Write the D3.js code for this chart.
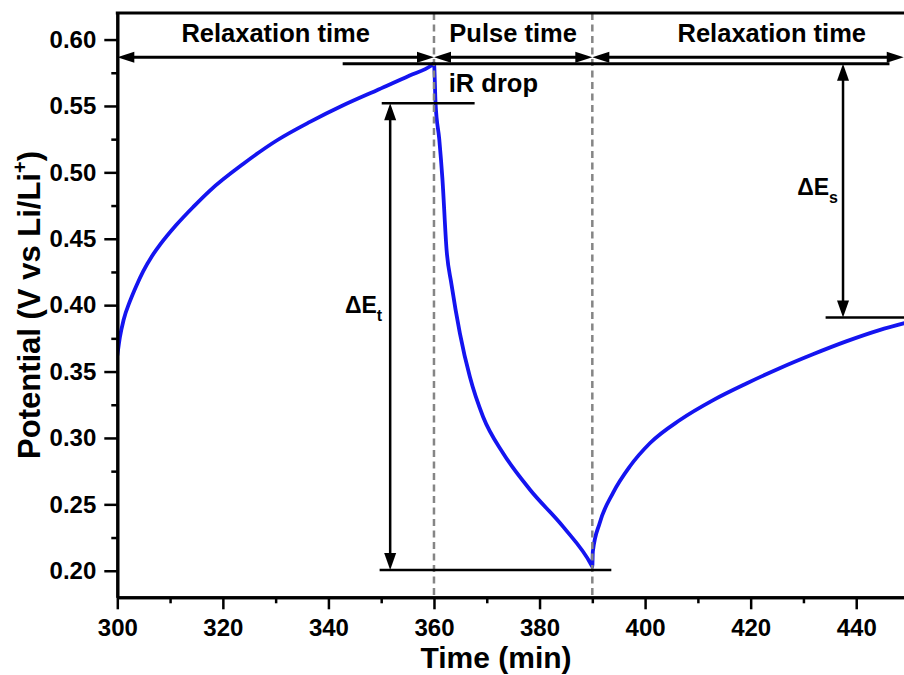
<!DOCTYPE html>
<html><head><meta charset="utf-8">
<script src="https://cdn.jsdelivr.net/npm/d3@7"></script>
<style>
body{margin:0;background:#fff}
svg{display:block;background:#fff}
text{font-family:"Liberation Sans",Arial,Helvetica,sans-serif;font-weight:bold;fill:#000}
</style>
</head><body>
<svg id="chart" width="904" height="675"></svg>
<script>
// ---- data ----
const timeMin = [300.0, 300.5, 301.2, 302.4, 303.6, 304.9, 306.5, 308.1, 311.2, 314.4, 317.6, 323.9, 330.2, 336.5, 342.8, 349.1, 355.4, 359.5, 360.0,
  360.3, 361.0, 361.6, 362.4, 363.3, 364.9, 366.8, 369.3, 373.1, 378.2, 384.5, 389.8, 390.0,
  390.1, 391.4, 393.9, 397.1, 400.9, 406.6, 412.9, 419.2, 425.5, 431.8, 438.1, 444.4, 449.5];
const potentialV = [0.362, 0.376, 0.389, 0.403, 0.4145, 0.4255, 0.4365, 0.4455, 0.4605, 0.474, 0.4865, 0.5065, 0.524, 0.538, 0.5505, 0.5617, 0.5729, 0.5805, 0.582,
  0.552, 0.525, 0.495, 0.441, 0.416, 0.379, 0.346, 0.316, 0.2885, 0.261, 0.233, 0.2045, 0.203,
  0.2145, 0.236, 0.2585, 0.2785, 0.296, 0.3135, 0.3285, 0.341, 0.3525, 0.363, 0.3727, 0.3812, 0.3868];

const xMajorTicks = [300, 320, 340, 360, 380, 400, 420, 440];
const xMinorTicks = [310, 330, 350, 370, 390, 410, 430, 450];
const yMajorTicks = [0.20, 0.25, 0.30, 0.35, 0.40, 0.45, 0.50, 0.55, 0.60];
const yMinorTicks = [0.225, 0.275, 0.325, 0.375, 0.425, 0.475, 0.525, 0.575];

const phaseBounds = [300, 360, 390, 449];
const phaseLabels = ["Relaxation time", "Pulse time", "Relaxation time"];
const phaseLabelTimes = [330, 375, 424];
const phaseArrowLevel = 0.5867;

const peakLevel = 0.5817;      // potential before the pulse
const irLevel = 0.5521;        // after the iR drop
const pulseEndLevel = 0.2005;  // end of pulse
const relaxEndLevel = 0.3907;  // end of relaxation

const xTitle = "Time (min)";

// ---- layout ----
const svg = d3.select("#chart");
const x = d3.scaleLinear().domain([300, 450]).range([117.3, 909]);
const y = d3.scaleLinear().domain([0.18, 0.62]).range([597.3, 13]);
const [X0, X1] = x.range();
const [Y0, Y1] = y.range();

svg.append("rect").attr("width", 904).attr("height", 675).attr("fill", "#fff");

svg.append("defs").append("clipPath").attr("id", "plotclip")
  .append("rect").attr("x", X0).attr("y", Y1).attr("width", X1 - X0).attr("height", Y0 - Y1);

// curve
const pts = timeMin.map((t, i) => [t, potentialV[i]]);
svg.append("path").datum(pts)
  .attr("clip-path", "url(#plotclip)")
  .attr("fill", "none").attr("stroke", "#1414f0").attr("stroke-width", 3.8)
  .attr("stroke-linejoin", "round")
  .attr("d", d3.line().x(d => x(d[0])).y(d => y(d[1])).curve(d3.curveMonotoneX));

// dashed phase boundaries
svg.selectAll(".bound").data(phaseBounds.slice(1, 3)).join("line")
  .attr("x1", d => x(d)).attr("x2", d => x(d)).attr("y1", Y1).attr("y2", Y0)
  .attr("stroke", "#858585").attr("stroke-width", 2.5).attr("stroke-dasharray", "7,4.5");

// ---- arrows ----
const g = svg.append("g");
function head(px, py, dir, len, hw) {
  let p;
  if (dir === 'l') p = [[px, py], [px + len, py - hw], [px + len, py + hw]];
  if (dir === 'r') p = [[px, py], [px - len, py - hw], [px - len, py + hw]];
  if (dir === 'u') p = [[px, py], [px - hw, py + len], [px + hw, py + len]];
  if (dir === 'd') p = [[px, py], [px - hw, py - len], [px + hw, py - len]];
  g.append("path").attr("d", "M" + p.map(q => q.join(",")).join("L") + "Z").attr("fill", "#000");
}
function hArrow(t1, t2, v) {
  const a = x(t1), b = x(t2), yy = y(v), L = 17;
  g.append("line").attr("x1", a + L - 2).attr("x2", b - L + 2).attr("y1", yy).attr("y2", yy)
    .attr("stroke", "#000").attr("stroke-width", 3);
  head(a, yy, 'l', L, 5.5);
  head(b, yy, 'r', L, 5.5);
}
function vArrow(t, v1, v2) {
  const xx = x(t), a = y(v1), b = y(v2), L = 17;
  g.append("line").attr("x1", xx).attr("x2", xx).attr("y1", a + L - 2).attr("y2", b - L + 2)
    .attr("stroke", "#000").attr("stroke-width", 2.5);
  head(xx, a, 'u', L, 6);
  head(xx, b, 'd', L, 6);
}
function hLine(t1, t2, v, w) {
  g.append("line").attr("x1", x(t1)).attr("x2", x(t2)).attr("y1", y(v)).attr("y2", y(v))
    .attr("stroke", "#000").attr("stroke-width", w);
}

for (let i = 0; i < 3; i++) hArrow(phaseBounds[i], phaseBounds[i + 1], phaseArrowLevel);

hLine(342.7, 446.3, peakLevel, 3);
hLine(350.1, 367.7, irLevel, 2.5);
hLine(349.7, 393.6, pulseEndLevel, 2.5);
hLine(434.2, 452, relaxEndLevel, 2.5);

vArrow(351.7, irLevel, pulseEndLevel);
vArrow(437.5, peakLevel, relaxEndLevel);

// phase labels
svg.selectAll(".plab").data(phaseLabels).join("text")
  .attr("x", (d, i) => x(phaseLabelTimes[i])).attr("y", y(phaseArrowLevel) - 15)
  .attr("text-anchor", "middle").attr("font-size", 25.5).text(d => d);

// iR drop
svg.append("text").attr("x", x(362.8)).attr("y", 92).attr("font-size", 25.5).text("iR drop");

// ΔE labels
function deltaLabel(px, py, sub) {
  const t = svg.append("text").attr("x", px).attr("y", py).attr("text-anchor", "end").attr("font-size", 23);
  t.append("tspan").text("ΔE");
  t.append("tspan").attr("font-size", 16).attr("dy", 8).text(sub);
}
deltaLabel(x(351.7) - 8, 313, "t");
deltaLabel(x(437.5) - 5, 195, "s");

// ---- axes ----
const axStyle = sel => {
  sel.select(".domain").attr("stroke", "#000").attr("stroke-width", 3);
  sel.selectAll(".tick line").attr("stroke", "#000").attr("stroke-width", 2.5);
  sel.selectAll(".tick text").attr("font-size", 24).attr("fill", "#000")
    .style("font-family", '"Liberation Sans",Arial,sans-serif').style("font-weight", "bold");
};

svg.append("g").attr("transform", `translate(0,${Y0})`)
  .call(d3.axisBottom(x).tickValues(xMinorTicks).tickSize(6).tickFormat("").tickSizeOuter(0)).call(axStyle);
svg.append("g").attr("transform", `translate(0,${Y0})`)
  .call(d3.axisBottom(x).tickValues(xMajorTicks).tickSize(12).tickPadding(10).tickFormat(d3.format("d")).tickSizeOuter(0))
  .call(axStyle);

svg.append("g").attr("transform", `translate(${X0},0)`)
  .call(d3.axisLeft(y).tickValues(yMinorTicks).tickSize(6).tickFormat("").tickSizeOuter(0)).call(axStyle);
svg.append("g").attr("transform", `translate(${X0},0)`)
  .call(d3.axisLeft(y).tickValues(yMajorTicks).tickSize(13).tickPadding(8).tickFormat(d3.format(".2f")).tickSizeOuter(0))
  .call(axStyle);

// top frame
svg.append("line").attr("x1", X0 - 1.5).attr("x2", X1).attr("y1", Y1).attr("y2", Y1)
  .attr("stroke", "#000").attr("stroke-width", 3);

// axis titles
svg.append("text").attr("x", 496).attr("y", 668).attr("text-anchor", "middle")
  .attr("font-size", 30).text(xTitle);

const yt = svg.append("text").attr("transform", "translate(40,305) rotate(-90)")
  .attr("text-anchor", "middle").attr("font-size", 31);
yt.append("tspan").text("Potential (V vs Li/Li");
yt.append("tspan").attr("font-size", 20).attr("dy", -13).text("+");
yt.append("tspan").attr("dy", 13).text(")");
</script>
</body></html>
